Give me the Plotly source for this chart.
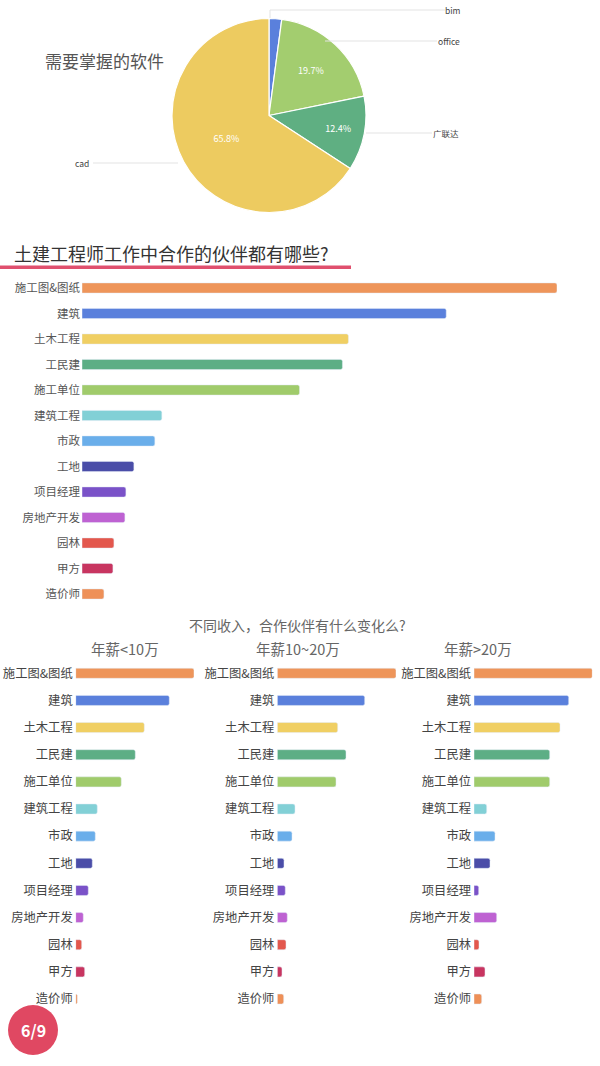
import plotly.graph_objects as go

W, H = 600, 1066
FONT = "Noto Sans CJK SC"

# ---------- data ----------
pie_labels = ["bim", "office", "广联达", "cad"]
pie_values = [2.1, 19.7, 12.4, 65.8]
pie_colors = ["#5A80DC", "#A3CD6F", "#5FAF82", "#EDCB60"]

categories = ["施工图&图纸", "建筑", "土木工程", "工民建", "施工单位", "建筑工程", "市政",
              "工地", "项目经理", "房地产开发", "园林", "甲方", "造价师"]
bar_colors = ["#EE955A", "#5A80DC", "#F0CF63", "#5DAE85", "#A0CB6B", "#82D0D6", "#6AAEEA",
              "#4A4DA8", "#7A52C8", "#BE62D2", "#E3574D", "#C83560", "#EE9058"]
overall = [476, 365, 267, 261, 218, 80, 73, 52, 44, 43, 32, 31, 22]

panel_titles = ["年薪<10万", "年薪10~20万", "年薪>20万"]
income_lt10 = [118.3, 93.6, 68.6, 59.6, 45.6, 21.6, 19.6, 16.6, 12.6, 7.6, 6.0, 9.0, 1.6]
income_10_20 = [118.7, 87.4, 60.4, 68.7, 58.7, 17.7, 14.7, 6.7, 8.0, 10.0, 8.7, 4.7, 6.4]
income_gt20 = [118.3, 94.7, 86.0, 75.7, 75.7, 12.7, 21.0, 16.0, 4.7, 22.7, 5.0, 11.0, 7.7]

# ---------- helpers ----------
def px_x(x):
    return x / W

def px_y(y):
    return 1 - y / H

fig = go.Figure()

# ---------- pie ----------
cx, cy, r = 269, 115.5, 97
pie_text = ["" if v < 5 else f"{v:.1f}%" for v in pie_values]
fig.add_trace(go.Pie(
    labels=pie_labels, values=pie_values, sort=False, direction="clockwise", rotation=0,
    marker=dict(colors=pie_colors, line=dict(color="white", width=1.2)),
    text=pie_text, textinfo="text", textposition="inside", insidetextorientation="horizontal",
    textfont=dict(color="white", size=9, family=FONT),
    domain=dict(x=[px_x(cx - r), px_x(cx + r)], y=[px_y(cy + r), px_y(cy - r)]),
    showlegend=False, hoverinfo="label+percent",
))

# ---------- overall bar chart ----------
fig.add_trace(go.Bar(
    x=overall, y=categories, orientation="h", marker=dict(color=bar_colors),
    width=0.4, xaxis="x", yaxis="y", showlegend=False,
))

# ---------- income panels ----------
panel_data = [income_lt10, income_10_20, income_gt20]
panel_x = [(75.7, 194), (277.3, 396), (474, 592.3)]
for i, vals in enumerate(panel_data):
    fig.add_trace(go.Bar(
        x=vals, y=categories, orientation="h", marker=dict(color=bar_colors),
        width=0.37, xaxis=f"x{i+2}", yaxis=f"y{i+2}", showlegend=False,
    ))

layout = dict(
    width=W, height=H, margin=dict(l=0, r=0, t=0, b=0),
    paper_bgcolor="white", plot_bgcolor="white",
    font=dict(family=FONT, color="#444"),
    barcornerradius=2,
)

# main axes
main_top, main_bot = 288 - 12.75, 594 + 12.75
layout["xaxis"] = dict(domain=[px_x(82), px_x(557)], range=[0, max(overall)],
                       visible=False, fixedrange=True)
layout["yaxis"] = dict(domain=[px_y(main_bot), px_y(main_top)], anchor="x",
                       categoryorder="array", categoryarray=categories,
                       range=[len(categories) - 0.5, -0.5],
                       showgrid=False, zeroline=False, showline=False, ticks="",
                       tickfont=dict(size=11.5, color="#555", family=FONT), ticklabelstandoff=1)

p_top, p_bot = 673.3 - 13.6, 999 + 13.6
for i, (x0, x1) in enumerate(panel_x):
    vals = panel_data[i]
    layout[f"xaxis{i+2}"] = dict(domain=[px_x(x0), px_x(x1)], range=[0, max(vals)],
                                 visible=False, anchor=f"y{i+2}")
    layout[f"yaxis{i+2}"] = dict(domain=[px_y(p_bot), px_y(p_top)], anchor=f"x{i+2}",
                                 categoryorder="array", categoryarray=categories,
                                 range=[len(categories) - 0.5, -0.5],
                                 showgrid=False, zeroline=False, showline=False, ticks="",
                                 tickfont=dict(size=12.3, color="#444", family=FONT),
                                 ticklabelstandoff=2)

fig.update_layout(**layout)

# ---------- annotations & shapes ----------
ann = []
shapes = []

ann.append(dict(text="需要掌握的软件", x=px_x(43), y=px_y(61), xref="paper", yref="paper",
                xanchor="left", yanchor="middle", showarrow=False,
                font=dict(size=17, color="#555", family=FONT)))

# pie outside labels + leader lines
line_style = dict(color="#E3E3E3", width=1)
outside = [
    ("bim", 463, 10, [(270, 18), (270, 10), (445, 10)]),
    ("office", 462, 41, [(325, 41), (437, 41)]),
    ("广联达", 461, 133, [(366, 133), (432, 133)]),
]
for lbl, tx, ty, pts in outside:
    ann.append(dict(text=lbl, x=px_x(tx), y=px_y(ty), xref="paper", yref="paper",
                    xanchor="right", yanchor="middle", showarrow=False,
                    font=dict(size=8.5, color="#444", family=FONT)))
    for (xa, ya), (xb, yb) in zip(pts[:-1], pts[1:]):
        shapes.append(dict(type="line", xref="paper", yref="paper",
                           x0=px_x(xa), y0=px_y(ya), x1=px_x(xb), y1=px_y(yb), line=line_style))
ann.append(dict(text="cad", x=px_x(73), y=px_y(163), xref="paper", yref="paper",
                xanchor="left", yanchor="middle", showarrow=False,
                font=dict(size=8.5, color="#444", family=FONT)))
shapes.append(dict(type="line", xref="paper", yref="paper", x0=px_x(93), y0=px_y(163),
                   x1=px_x(178), y1=px_y(163), line=line_style))

# section title + underline
ann.append(dict(text="土建工程师工作中合作的伙伴都有哪些?", x=px_x(12), y=px_y(253),
                xref="paper", yref="paper", xanchor="left", yanchor="middle", showarrow=False,
                font=dict(size=18, color="#333", family=FONT)))
shapes.append(dict(type="rect", xref="paper", yref="paper", x0=0, x1=px_x(351),
                   y0=px_y(269), y1=px_y(265.5), fillcolor="#E0506E", line=dict(width=0)))

# subtitle and panel titles
ann.append(dict(text="不同收入，合作伙伴有什么变化么?", x=px_x(297), y=px_y(625),
                xref="paper", yref="paper", xanchor="center", yanchor="middle", showarrow=False,
                font=dict(size=14, color="#666", family=FONT)))
for t, xc in zip(panel_titles, [125, 298, 478]):
    ann.append(dict(text=t, x=px_x(xc), y=px_y(648), xref="paper", yref="paper",
                    xanchor="center", yanchor="middle", showarrow=False,
                    font=dict(size=14.5, color="#666", family=FONT)))

# page badge
shapes.append(dict(type="circle", xref="paper", yref="paper",
                   x0=px_x(8), x1=px_x(58), y0=px_y(1055), y1=px_y(1005),
                   fillcolor="#E04862", line=dict(width=0)))
ann.append(dict(text="<b>6/9</b>", x=px_x(33), y=px_y(1030), xref="paper", yref="paper",
                xanchor="center", yanchor="middle", showarrow=False,
                font=dict(size=16, color="white", family=FONT)))

fig.update_layout(annotations=ann, shapes=shapes)

fig.write_html("out.html")
